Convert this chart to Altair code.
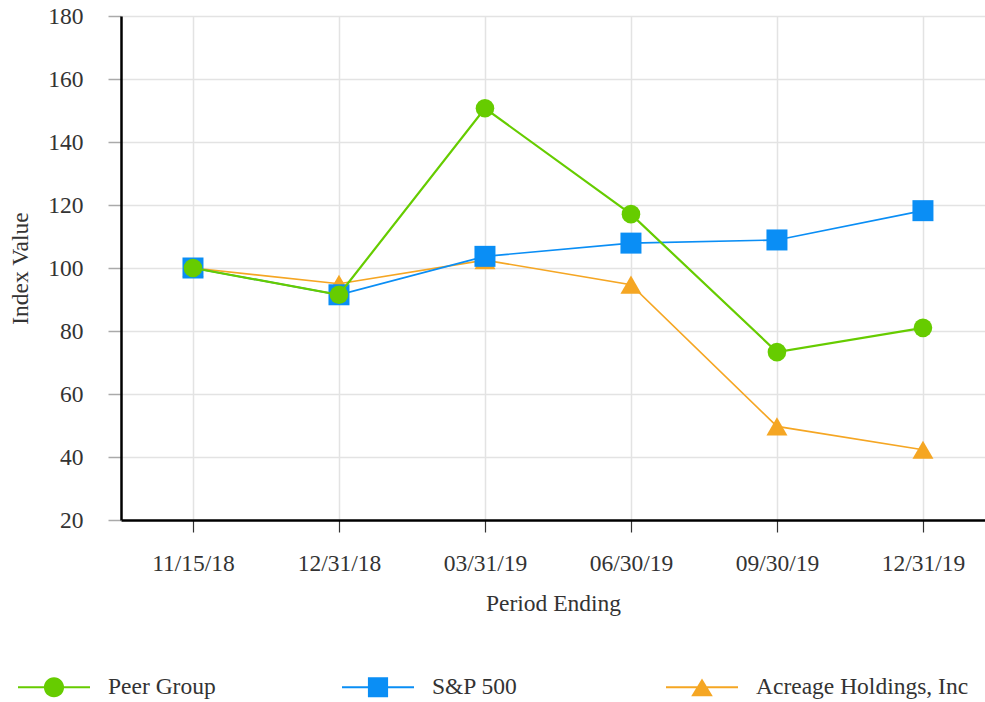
import json
import altair as alt
import pandas as pd

# ---- data ----
periods = ["11/15/18", "12/31/18", "03/31/19", "06/30/19", "09/30/19", "12/31/19"]
series_names = ["Peer Group", "S&P 500", "Acreage Holdings, Inc"]
peer_group = [100, 91.5, 150.7, 117.1, 73.3, 81.0]
sp500 = [100, 91.5, 103.7, 107.9, 108.9, 118.2]
acreage = [100, 95.0, 102.5, 94.7, 49.7, 42.3]
y_ticks = [20, 40, 60, 80, 100, 120, 140, 160, 180]

# ---- styles ----
colors = ["#66cc00", "#0a8ef5", "#f5a623"]
point_shapes = ["circle", "square", "triangle-up"]
point_sizes = [346, 441, 441]
line_widths = [2.2, 1.7, 1.7]
FONT = "Liberation Serif"
FS = 23.5
TXT = "#333333"

# legend symbols: a line with the marker on it (unit space -1..1)
legend_paths = [
    "M-1,-0.03 L1,-0.03 L1,0.03 L-1,0.03 Z "
    "M0.28,0 A0.28,0.28 0 1 1 -0.28,0 A0.28,0.28 0 1 1 0.28,0 Z",
    "M-1,-0.025 L1,-0.025 L1,0.025 L-1,0.025 Z "
    "M-0.28,-0.28 L0.28,-0.28 L0.28,0.28 L-0.28,0.28 Z",
    "M-1,-0.025 L1,-0.025 L1,0.025 L-1,0.025 Z "
    "M0,-0.24 L0.3,0.25 L-0.3,0.25 Z",
]

rows = []
for name, vals in zip(series_names, [peer_group, sp500, acreage]):
    for i, (p, v) in enumerate(zip(periods, vals)):
        rows.append({"idx": i, "period": p, "value": v, "series": name})
df = pd.DataFrame(rows)

x_enc = alt.X(
    "idx:Q",
    scale=alt.Scale(domain=[-0.493, 5.425], nice=False, zero=False),
    axis=alt.Axis(
        values=list(range(len(periods))),
        labelExpr=json.dumps(periods) + "[datum.value]",
        title="Period Ending",
        grid=True,
        tickSize=12,
        tickColor="#333333",
        tickWidth=1.2,
        labelPadding=19,
        titlePadding=17,
    ),
)
y_enc = alt.Y(
    "value:Q",
    scale=alt.Scale(domain=[20, 180], nice=False, zero=False),
    axis=alt.Axis(
        values=y_ticks,
        title="Index Value",
        grid=True,
        tickSize=13,
        tickColor="#aaaaaa",
        tickWidth=1.5,
        labelPadding=25,
        titlePadding=15,
    ),
)

layers = []
# draw order: Acreage (bottom), S&P 500, Peer Group (top)
for k in [2, 1, 0]:
    name = series_names[k]
    base = alt.Chart(df).transform_filter(alt.datum.series == name)
    layers.append(
        base.mark_line(color=colors[k], strokeWidth=line_widths[k]).encode(x=x_enc, y=y_enc)
    )
    layers.append(
        base.mark_point(
            shape=point_shapes[k], filled=True, opacity=1, color=colors[k], size=point_sizes[k]
        ).encode(x=x_enc, y=y_enc)
    )

leg = alt.Legend(
    title=None,
    orient="none",
    legendX=-103,
    legendY=635,
    direction="horizontal",
    columns=3,
    gridAlign="all",
    columnPadding=21,
    symbolSize=5184,
    symbolStrokeWidth=0,
    symbolOpacity=1,
    labelOffset=18,
    labelLimit=400,
    labelFont=FONT,
    labelFontSize=FS,
    labelColor=TXT,
    padding=0,
)

legend_layer = (
    alt.Chart(df)
    .transform_filter("false")
    .mark_point(filled=True, opacity=1)
    .encode(
        x=x_enc,
        y=y_enc,
        color=alt.Color("series:N", scale=alt.Scale(domain=series_names, range=colors), legend=leg),
        shape=alt.Shape("series:N", scale=alt.Scale(domain=series_names, range=legend_paths), legend=leg),
    )
)
layers.append(legend_layer)

chart = (
    alt.layer(*layers)
    .properties(
        width=864,
        height=504,
        autosize=alt.AutoSizeParams(type="none"),
        padding={"left": 121, "top": 16, "right": 0, "bottom": 182},
        background="white",
    )
    .configure_view(stroke=None)
    .configure_axis(
        labelFont=FONT,
        labelFontSize=FS,
        labelColor=TXT,
        titleFont=FONT,
        titleFontSize=FS,
        titleFontWeight="normal",
        titleColor=TXT,
        domainColor="#000000",
        domainWidth=2.5,
        gridColor="#e3e3e3",
        gridWidth=1.5,
    )
)

chart.save("out.html", embed_options={"renderer": "svg", "actions": False})
